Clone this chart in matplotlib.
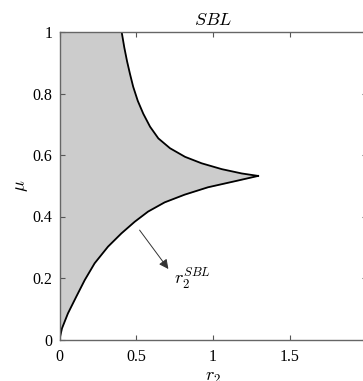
import numpy as np
import matplotlib
matplotlib.use('Agg')
import matplotlib.pyplot as plt

plt.rcParams['mathtext.fontset'] = 'cm'
plt.rcParams['font.family'] = ['Liberation Serif', 'DejaVu Serif']

# boundary of the SBL region (r2, mu)
upper_r2 = [0.405, 0.422, 0.440, 0.459, 0.480, 0.510, 0.546, 0.590, 0.644,
            0.720, 0.818, 0.926, 1.057, 1.187, 1.294]
upper_mu = [1.000, 0.950, 0.905, 0.864, 0.822, 0.776, 0.734, 0.692, 0.654,
            0.622, 0.594, 0.573, 0.554, 0.540, 0.532]
lower_r2 = [1.294, 1.163, 0.967, 0.815, 0.685, 0.577, 0.490, 0.403, 0.316,
            0.229, 0.164, 0.109, 0.055, 0.016, 0.0]
lower_mu = [0.532, 0.517, 0.495, 0.471, 0.446, 0.416, 0.383, 0.345, 0.302,
            0.248, 0.193, 0.139, 0.085, 0.036, 0.0]

xticks = [0, 0.5, 1, 1.5, 2]
yticks = [0, 0.2, 0.4, 0.6, 0.8, 1]

fig = plt.figure(figsize=(3.63, 3.81), dpi=100)
ax = fig.add_axes([59.5 / 363, 41.5 / 381, 307 / 363, 307.5 / 381])

# closed boundary: lower curve from origin up to the cusp, then upper curve to mu=1
bnd_r2 = np.concatenate([lower_r2[::-1], upper_r2[::-1][1:]])
bnd_mu = np.concatenate([lower_mu[::-1], upper_mu[::-1][1:]])
ax.fill_betweenx(bnd_mu, 0, bnd_r2, color='#cccccc', lw=0)
ax.plot(upper_r2, upper_mu, color='black', lw=1.3)
ax.plot(lower_r2, lower_mu, color='black', lw=1.3)

ax.annotate('', xy=(0.72, 0.222), xytext=(0.511, 0.363),
            arrowprops=dict(arrowstyle='-|>', color='#333333', lw=0.7,
                            mutation_scale=14))
ax.text(0.745, 0.195, r'$r_2^{SBL}$', fontsize=13, ha='left', va='center')

ax.set_xlim(0, 2)
ax.set_ylim(0, 1)
ax.set_xticks(xticks)
ax.set_xticklabels(['0', '0.5', '1', '1.5', '2'])
ax.set_yticks(yticks)
ax.set_yticklabels(['0', '0.2', '0.4', '0.6', '0.8', '1'])
ax.tick_params(direction='in', top=True, right=True, length=3.5, width=0.8,
               color='#555555', labelsize=11.5)
ax.tick_params(axis='x', pad=7)
ax.tick_params(axis='y', pad=5)
for s in ax.spines.values():
    s.set_color('#666666')
    s.set_linewidth(1.0)

ax.set_title(r'$SBL$', fontsize=13, pad=5)
ax.set_xlabel(r'$r_2$', fontsize=13, labelpad=3)
ax.set_ylabel(r'$\mu$', fontsize=13, labelpad=2)

fig.savefig('out.png', dpi=100)
